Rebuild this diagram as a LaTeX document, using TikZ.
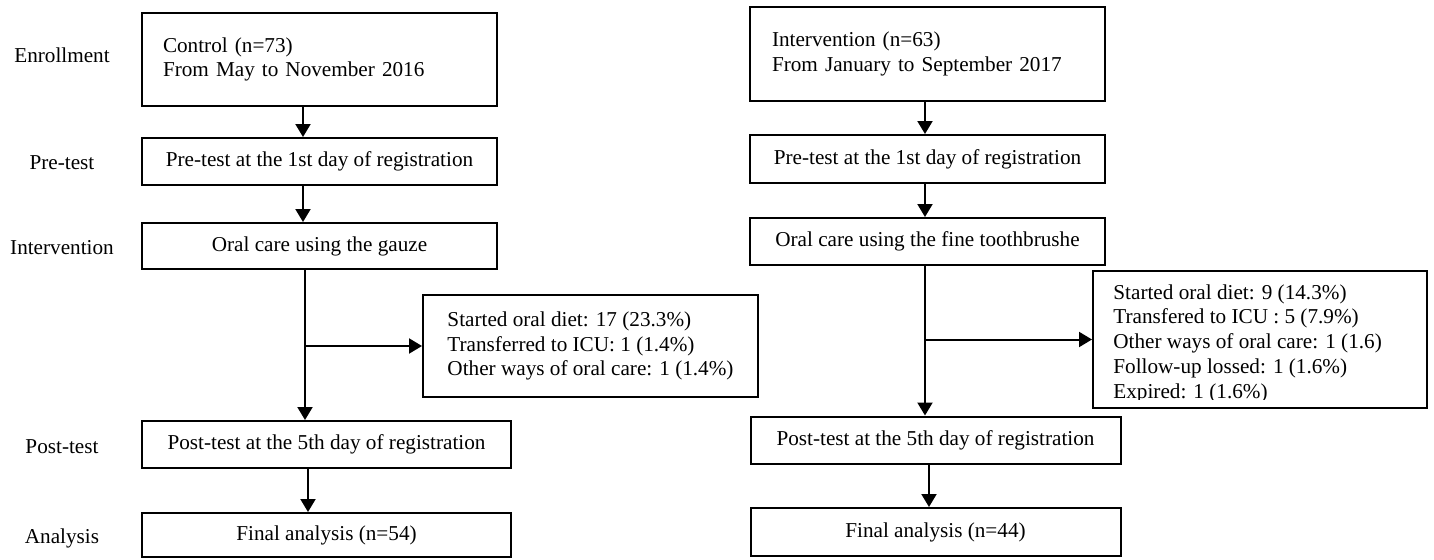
\documentclass[tikz,border=0pt]{standalone}
\usepackage{fontspec}
\setmainfont{Liberation Serif}
\usetikzlibrary{arrows.meta}
\tikzstyle{txt}=[font=\fontsize{10.6}{12.4}\selectfont, inner sep=0pt]
\tikzstyle{box}=[txt, draw, line width=1pt]
\tikzstyle{topbox}=[box, minimum width=177.5pt, minimum height=23.5pt]
\tikzstyle{lowbox}=[box, minimum width=184.5pt, minimum height=23.5pt]
\tikzstyle{listbox}=[box, align=left, inner xsep=10.5pt, minimum height=46.5pt]
\tikzstyle{arr}=[line width=1pt, -{Triangle[length=6.5pt, width=7.5pt]}]

\begin{document}
\begin{tikzpicture}[x=0.5pt, y=-0.5pt]
    \useasboundingbox (0,0) rectangle (1434,559);
    \node [txt] (labEnr) at (62,55) {Enrollment};
    \node [txt] (labPre) at (62,163) {Pre-test};
    \node [txt] (labInt) at (62,248) {Intervention};
    \node [txt] (labPost) at (62,447) {Post-test};
    \node [txt] (labAna) at (62,538) {Analysis};

    \node [listbox, text width=156.5pt] (ctrl) at (319.5,59.5) {Control (n=73)\\From May to November 2016};
    \node [topbox] (preC) at (319.5,161.5) {Pre-test at the 1st day of registration};
    \node [topbox, minimum height=23pt] (oralC) at (319.5,246) {Oral care using the gauze};
    \node [box, align=left, minimum width=167.5pt, minimum height=51pt] (lossC) at (590.5,346) {Started oral diet: 17 (23.3\%)\\Transferred to ICU: 1 (1.4\%)\\Other ways of oral care: 1 (1.4\%)};
    \node [lowbox] (postC) at (326.5,444.5) {Post-test at the 5th day of registration};
    \node [lowbox, minimum height=22pt] (finC) at (326.5,535) {Final analysis (n=54)};

    \coordinate (aC) at (303,0);
    \coordinate (bC) at (305,0);
    \coordinate (cC) at (308,0);
    \draw [arr] (ctrl.south -| aC) -- (preC.north -| aC);
    \draw [arr] (preC.south -| aC) -- (oralC.north -| aC);
    \draw [arr] (oralC.south -| bC) -- (postC.north -| bC);
    \draw [arr] (bC |- lossC.west) -- (lossC.west);
    \draw [arr] (postC.south -| cC) -- (finC.north -| cC);

    \node [listbox, text width=155.5pt, inner xsep=11pt, minimum height=47pt] (intv) at (927.5,54) {Intervention (n=63)\\From January to September 2017};
    \node [topbox, minimum height=24pt] (preI) at (927.5,159) {Pre-test at the 1st day of registration};
    \node [topbox] (oralI) at (927.5,241.5) {Oral care using the fine toothbrushe};
    \node [box, minimum width=167pt, minimum height=68.5pt] (lossI) at (1260,339.5) {};
    \begin{scope}
        \clip (lossI.north west) rectangle ([yshift=5pt]lossI.south east);
        \node [txt, align=left, anchor=north west] (lossItxt) at ([xshift=10.5pt, yshift=-7pt]lossI.north west) {Started oral diet: 9 (14.3\%)\\Transfered to ICU : 5 (7.9\%)\\Other ways of oral care: 1 (1.6)\\Follow-up lossed: 1 (1.6\%)\\Expired: 1 (1.6\%)};
    \end{scope}
    \node [lowbox, minimum width=185pt] (postI) at (935.5,440) {Post-test at the 5th day of registration};
    \node [lowbox, minimum width=185pt, minimum height=24pt] (finI) at (935.5,532) {Final analysis (n=44)};

    \coordinate (aI) at (925,0);
    \coordinate (bI) at (929,0);
    \draw [arr] (intv.south -| aI) -- (preI.north -| aI);
    \draw [arr] (preI.south -| aI) -- (oralI.north -| aI);
    \draw [arr] (oralI.south -| aI) -- (postI.north -| aI);
    \draw [arr] (aI |- lossI.west) -- (lossI.west);
    \draw [arr] (postI.south -| bI) -- (finI.north -| bI);
\end{tikzpicture}
\end{document}
